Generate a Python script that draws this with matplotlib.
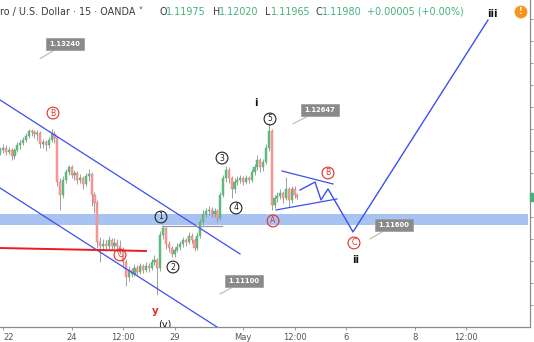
import numpy as np
import matplotlib
matplotlib.use("Agg")
import matplotlib.pyplot as plt
from matplotlib.patches import Rectangle
import matplotlib.transforms as mtransforms

# ---------------- data ----------------
first_open = 1.1238
closes = [1.1241,1.1243,1.1239,1.1241,1.1235,1.1241,1.1245,1.1247,1.1250,1.1254,
          1.1258,1.1257,1.1255,1.1256,1.1246,1.1248,1.1245,1.1250,1.1255,1.1252,
          1.1212,1.1200,1.1214,1.1221,1.1225,1.1218,1.1220,1.1214,1.1215,1.1210,
          1.1217,1.1219,1.1200,1.1193,1.1157,1.1154,1.1155,1.1154,1.1159,1.1154,
          1.1156,1.1154,1.1150,1.1139,1.1125,1.1132,1.1128,1.1134,1.1130,1.1135,
          1.1132,1.1135,1.1134,1.1139,1.1141,1.1134,1.1164,1.1170,1.1155,1.1152,
          1.1146,1.1150,1.1153,1.1155,1.1159,1.1157,1.1163,1.1159,1.1152,1.1163,
          1.1175,1.1183,1.1185,1.1186,1.1183,1.1185,1.1179,1.1200,1.1215,1.1223,
          1.1215,1.1205,1.1212,1.1214,1.1215,1.1212,1.1215,1.1214,1.1221,1.1225,
          1.1232,1.1225,1.1230,1.1243,1.1258,1.1191,1.1197,1.1199,1.1202,1.1197,
          1.1205,1.1195,1.1205,1.1200,1.1198]
highs = [1.1244,1.1246,1.1245,1.1244,1.1243,1.1243,1.1248,1.1250,1.1253,1.1256,
         1.1260,1.1260,1.1259,1.1259,1.1258,1.1251,1.1250,1.1253,1.1260,1.1258,
         1.1254,1.1215,1.1217,1.1224,1.1227,1.1227,1.1223,1.1222,1.1219,1.1217,
         1.1220,1.1224,1.1221,1.1203,1.1195,1.1162,1.1160,1.1159,1.1163,1.1161,
         1.1161,1.1160,1.1159,1.1153,1.1142,1.1135,1.1134,1.1137,1.1136,1.1138,
         1.1137,1.1139,1.1138,1.1142,1.1145,1.1143,1.1167,1.1173,1.1171,1.1158,
         1.1154,1.1153,1.1156,1.1158,1.1162,1.1161,1.1166,1.1165,1.1161,1.1166,
         1.1178,1.1186,1.1188,1.1190,1.1189,1.1188,1.1187,1.1203,1.1218,1.1226,
         1.1225,1.1217,1.1215,1.1217,1.1218,1.1217,1.1218,1.1217,1.1224,1.1228,
         1.1236,1.1234,1.1233,1.1246,1.1265,1.1260,1.1200,1.1203,1.1205,1.1204,
         1.1216,1.1207,1.1208,1.1208,1.1202]
lows = [1.1236,1.1238,1.1236,1.1237,1.1232,1.1233,1.1239,1.1242,1.1245,1.1248,
        1.1252,1.1254,1.1252,1.1250,1.1243,1.1243,1.1240,1.1243,1.1248,1.1247,
        1.1208,1.1186,1.1197,1.1211,1.1218,1.1215,1.1214,1.1210,1.1211,1.1205,
        1.1208,1.1213,1.1190,1.1184,1.1152,1.1139,1.1150,1.1149,1.1151,1.1150,
        1.1151,1.1148,1.1146,1.1134,1.1117,1.1122,1.1125,1.1126,1.1127,1.1128,
        1.1129,1.1130,1.1130,1.1132,1.1136,1.1109,1.1131,1.1160,1.1151,1.1148,
        1.1144,1.1144,1.1148,1.1150,1.1153,1.1154,1.1155,1.1156,1.1149,1.1150,
        1.1161,1.1173,1.1180,1.1182,1.1180,1.1180,1.1175,1.1177,1.1198,1.1212,
        1.1211,1.1197,1.1202,1.1209,1.1211,1.1209,1.1210,1.1211,1.1212,1.1218,
        1.1223,1.1221,1.1222,1.1228,1.1240,1.1186,1.1188,1.1194,1.1196,1.1193,
        1.1195,1.1189,1.1193,1.1197,1.1196]
bar_days = 1 / 12          # 2-hour bars, in trading days
first_bar_day = -1 / 12

x_tick_days = [0, 2, 3.5, 5, 7, 8.5, 10, 12, 13.5]
x_tick_labels = ["22", "24", "12:00", "29", "May", "12:00", "6", "8", "12:00"]

# drawings (trading-day, price)
upper_channel_t = [-0.087, 6.91]
upper_channel_p = [1.12864, 1.11464]
lower_channel_t = [-0.087, 6.239]
lower_channel_p = [1.12064, 1.10800]
red_line_t = [-0.087, 4.169]
red_line_p = [1.11518, 1.11491]
gray_line_t = [4.636, 6.385]
gray_line_p = [1.11718, 1.11718]
proj_t = [8.659, 9.096, 9.271, 9.475, 10.204, 14.140]
proj_p = [1.12045, 1.12118, 1.11955, 1.12055, 1.11664, 1.13591]
tri_up_t = [8.134, 9.621]
tri_up_p = [1.12218, 1.12100]
tri_lo_t = [7.959, 9.738]
tri_lo_p = [1.11864, 1.11964]
zone_low, zone_high = 1.11727, 1.11827

circ_text = ["B", "B", "A", "C", "C", "1", "2", "3", "4", "5"]
circ_t = [1.458, 9.475, 7.872, 3.411, 10.233, 4.606, 4.956, 6.385, 6.793, 7.784]
circ_p = [1.12745, 1.12200, 1.11764, 1.11455, 1.11564, 1.11800, 1.11345, 1.12336, 1.11882, 1.12691]
circ_red = [True, True, True, True, True, False, False, False, False, False]

deg_text = ["i", "ii", "iii"]
deg_t = [7.376, 10.292, 14.257]
deg_p = [1.12836, 1.11409, 1.13645]

note_values = ["1.13240", "1.12647", "1.11600", "1.11100"]
note_tip_t = [1.079, 8.455, 10.70, 6.327]
note_tip_p = [1.13240, 1.12647, 1.11600, 1.11100]
note_box_t = [1.808, 9.242, 11.399, 7.026]
note_box_p = [1.13373, 1.12773, 1.11727, 1.11218]

header_left = "ro / U.S. Dollar · 15 · OANDA ˅"
ohlc_keys = ["O", "H", "L", "C"]
ohlc_vals = ["1.11975", "1.12020", "1.11965", "1.11980"]
change_text = "+0.00005 (+0.00%)"
last_price = 1.11980

# ---------------- figure ----------------
W, H = 534, 342
fig = plt.figure(figsize=(W / 100, H / 100), dpi=100)
fig.patch.set_facecolor("white")
ax = fig.add_axes([0, 15 / H, 530 / W, 327 / H])
ax.set_xlim(-0.0875, 15.364)
ax.set_ylim(1.1080, 1.137727)

# zone
ax.axhspan(zone_low, zone_high, xmin=0, xmax=0.996, color="#a8c3f2", lw=0, zorder=1)

# candles
n = len(closes)
t = first_bar_day + np.arange(n) * bar_days
opens = np.array([first_open] + closes[:-1])
c = np.array(closes)
up = c >= opens
ax.vlines(t, lows, highs, color="#8f8f8f", lw=0.6, zorder=3)
body_lo = np.minimum(opens, c)
body_h = np.maximum(np.abs(c - opens), 0.00004)
ax.bar(t[up], body_h[up], bottom=body_lo[up], width=bar_days * 0.75,
       color="#5fbf7f", edgecolor="#4caf6e", lw=0.3, zorder=4)
ax.bar(t[~up], body_h[~up], bottom=body_lo[~up], width=bar_days * 0.75,
       color="#f4a0a0", edgecolor="#ec7474", lw=0.3, zorder=4)

# drawings
blue = "#3d4ff0"
ax.plot(upper_channel_t, upper_channel_p, color=blue, lw=0.9, zorder=5)
ax.plot(lower_channel_t, lower_channel_p, color=blue, lw=0.9, zorder=5)
ax.plot(red_line_t, red_line_p, color="#ee1c1c", lw=1.4, zorder=5)
ax.plot(gray_line_t, gray_line_p, color="#9a9a9a", lw=0.9, zorder=5)
ax.plot(proj_t, proj_p, color=blue, lw=1.0, zorder=5)
ax.plot(tri_up_t, tri_up_p, color=blue, lw=0.9, zorder=5)
ax.plot(tri_lo_t, tri_lo_p, color=blue, lw=0.9, zorder=5)

# circled wave labels
for s, tt, pp, r in zip(circ_text, circ_t, circ_p, circ_red):
    col = "#e0302a" if r else "#222222"
    ax.text(tt, pp, s, ha="center", va="center", fontsize=5.6, color=col,
            zorder=7,
            bbox=dict(boxstyle="circle,pad=0.18", fc="none", ec=col, lw=0.8))

for s, tt, pp in zip(deg_text, deg_t, deg_p):
    ax.text(tt, pp, s, ha="center", va="center", fontsize=7, color="#111111",
            fontweight="bold", zorder=7)

ax.text(4.431, 1.10945, "y", ha="center", va="center", fontsize=7.5,
        color="#e0302a", fontweight="bold", zorder=7)
ax.text(4.723, 1.10818, "(y)", ha="center", va="center", fontsize=7,
        color="#111111", zorder=7, clip_on=True)

# price notes
for s, tx, ty, bx, by in zip(note_values, note_tip_t, note_tip_p, note_box_t, note_box_p):
    ax.annotate(s, xy=(tx, ty), xytext=(bx, by), ha="center", va="center",
                fontsize=4.9, color="white", fontweight="bold", zorder=8,
                bbox=dict(boxstyle="square,pad=0.5", fc="#8a8a8a", ec="#9a9a9a", lw=0.5),
                arrowprops=dict(arrowstyle="-", color="#b8b8b8", lw=0.8,
                                shrinkA=0, shrinkB=0))

# axes styling
for side in ["top", "left"]:
    ax.spines[side].set_visible(False)
for side in ["bottom", "right"]:
    ax.spines[side].set_color("#8c8c8c")
    ax.spines[side].set_linewidth(0.9)
ax.yaxis.tick_right()
ax.set_yticks(np.arange(1.110, 1.1361, 0.002))
ax.tick_params(axis="y", which="both", right=True, labelright=False, left=False,
               length=2.5, width=0.6, color="#8c8c8c")
ax.set_xticks(x_tick_days)
ax.set_xticklabels(x_tick_labels)
ax.tick_params(axis="x", length=2, width=0.6, color="#8c8c8c", labelsize=6,
               labelcolor="#555555", pad=2)
first_lbl = ax.get_xticklabels()[0]
first_lbl.set_horizontalalignment("left")

# last price marker on right axis
trans = mtransforms.blended_transform_factory(ax.transAxes, ax.transData)
ax.add_patch(Rectangle((1.0, last_price - 0.00035), 0.012, 0.0007, transform=trans,
                       color="#45b07c", clip_on=False, zorder=9))

# header
hy = 1 - 12 / H
fs = 6.9
fig.text(0 / W, hy, header_left, fontsize=fs, color="#3c3c3c", va="center", ha="left")
key_x = [160, 213, 265, 316]
for k, v, kx in zip(ohlc_keys, ohlc_vals, key_x):
    fig.text(kx / W, hy, k, fontsize=fs, color="#3c3c3c", va="center", ha="left")
    fig.text((kx + 6) / W, hy, v, fontsize=fs, color="#45b07c", va="center", ha="left")
fig.text(367 / W, hy, change_text, fontsize=fs, color="#45b07c", va="center", ha="left")

# alert badge
fig.text(521 / W, 1 - 12 / H, "!", fontsize=5.5, color="white", fontweight="bold",
         ha="center", va="center",
         bbox=dict(boxstyle="circle,pad=0.25", fc="#f7941d", ec="none"))

fig.savefig("out.png", dpi=100)
